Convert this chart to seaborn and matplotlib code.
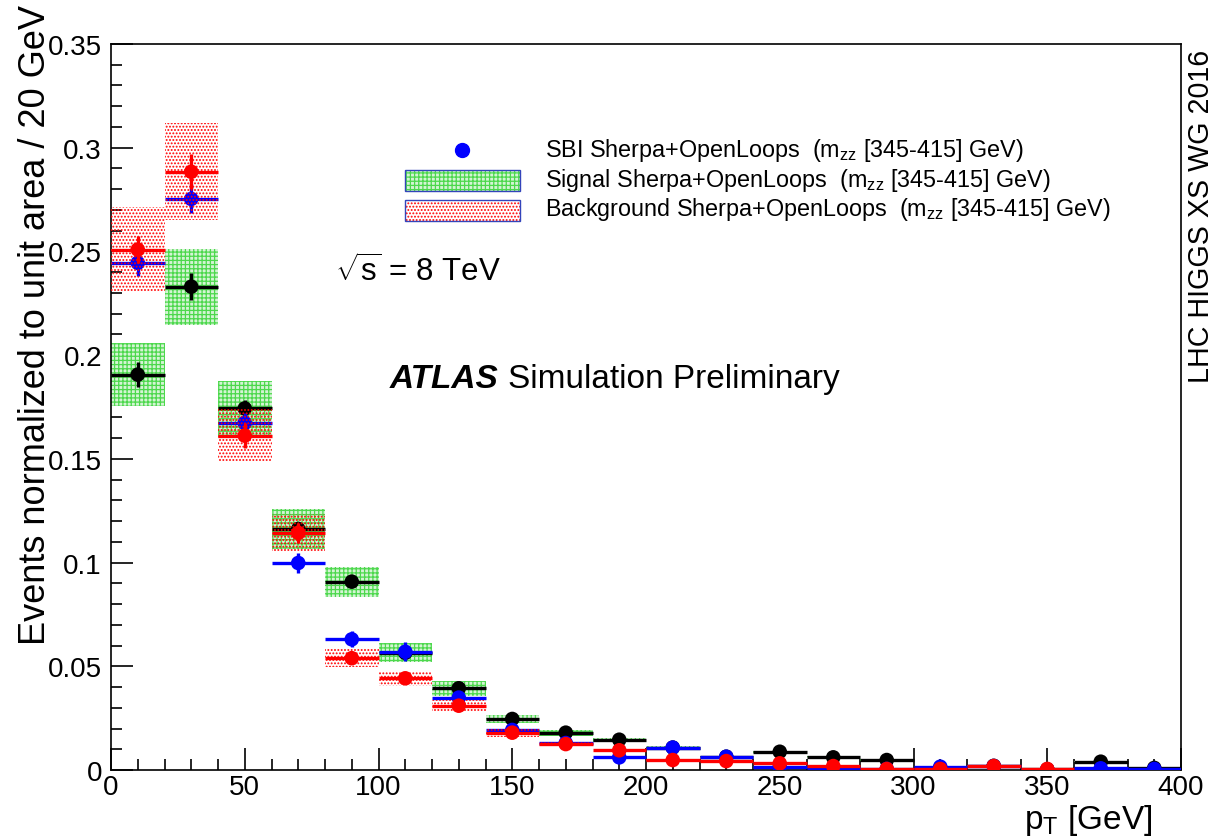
import numpy as np
import matplotlib
matplotlib.use("Agg")
import matplotlib.pyplot as plt
import seaborn as sns
from matplotlib.patches import Rectangle
from matplotlib.lines import Line2D

# ---------------- data ----------------
pt_centers = [10, 30, 50, 70, 90, 110, 130, 150, 170, 190,
              210, 230, 250, 270, 290, 310, 330, 350, 370, 390]
bin_half_width = 10

signal_vals = [0.1906, 0.2330, 0.1743, 0.1162, 0.0908, 0.0565, 0.0394, 0.0246, 0.0180, 0.0146,
               0.0108, 0.0064, 0.0088, 0.0061, 0.0048, 0.0010, 0.0020, 0.0003, 0.0040, 0.0010]
signal_err = [0.0060, 0.0065, 0.0040, 0.0030, 0.0020, 0.0015, 0.0012, 0.0010, 0.0010, 0.0010,
              0.0008, 0.0007, 0.0008, 0.0007, 0.0006, 0.0004, 0.0005, 0.0003, 0.0007, 0.0004]
signal_band = [0.0153, 0.0183, 0.0131, 0.0096, 0.0072, 0.0046, 0.0035, 0.0020, 0.0015, 0.0010,
               0.0006, 0.0005, 0.0006, 0.0005, 0.0004, 0.0002, 0.0002, 0.0001, 0.0003, 0.0001]

sbi_vals = [0.2445, 0.2753, 0.1673, 0.0998, 0.0630, 0.0570, 0.0349, 0.0193, 0.0130, 0.0061,
            0.0108, 0.0064, 0.0016, 0.0008, 0.0005, 0.0016, 0.0019, 0.0002, 0.0008, 0.0005]
sbi_err = [0.0065, 0.0070, 0.0050, 0.0050, 0.0038, 0.0045, 0.0015, 0.0010, 0.0010, 0.0010,
           0.0010, 0.0008, 0.0005, 0.0004, 0.0003, 0.0004, 0.0004, 0.0002, 0.0004, 0.0003]

bkg_vals = [0.2509, 0.2884, 0.1612, 0.1143, 0.0539, 0.0442, 0.0310, 0.0180, 0.0125, 0.0095,
            0.0048, 0.0043, 0.0032, 0.0019, 0.0005, 0.0005, 0.0019, 0.0005, 0.0000, 0.0000]
bkg_err = [0.0065, 0.0085, 0.0060, 0.0050, 0.0020, 0.0015, 0.0012, 0.0010, 0.0010, 0.0008,
           0.0006, 0.0005, 0.0005, 0.0004, 0.0003, 0.0003, 0.0004, 0.0003, 0.0000, 0.0000]
bkg_band = [0.0203, 0.0233, 0.0129, 0.0090, 0.0043, 0.0036, 0.0029, 0.0020, 0.0010, 0.0008,
            0.0004, 0.0003, 0.0003, 0.0002, 0.0001, 0.0001, 0.0002, 0.0001, 0.0000, 0.0000]

legend_labels = ["SBI Sherpa+OpenLoops  (m$_{\\mathrm{zz}}$ [345-415] GeV)",
                 "Signal Sherpa+OpenLoops  (m$_{\\mathrm{zz}}$ [345-415] GeV)",
                 "Background Sherpa+OpenLoops  (m$_{\\mathrm{zz}}$ [345-415] GeV)"]

# ---------------- style ----------------
sns.set_style("ticks")
plt.rcParams['font.family'] = ['Liberation Sans', 'DejaVu Sans']
plt.rcParams['mathtext.fontset'] = 'custom'
plt.rcParams['mathtext.rm'] = 'Liberation Sans'
plt.rcParams['mathtext.it'] = 'Liberation Sans:italic'
plt.rcParams['mathtext.bf'] = 'Liberation Sans:bold'
plt.rcParams['hatch.linewidth'] = 0.9
plt.rcParams['text.color'] = 'black'
plt.rcParams['xtick.color'] = 'black'
plt.rcParams['ytick.color'] = 'black'
plt.rcParams['xtick.labelcolor'] = 'black'
plt.rcParams['ytick.labelcolor'] = 'black'

W, H = 1220, 837
fig = plt.figure(figsize=(W / 100, H / 100), dpi=100)
ax = fig.add_axes([111 / W, 1 - 771 / H, (1181 - 111) / W, (771 - 45) / H])

x = np.array(pt_centers, dtype=float)
GREEN = '#4cd84c'
GREEN_FILL = '#d4f4d4'
RED = '#ff0000'
BLUE = '#0000ff'
GREEN_HATCH = '++++'
RED_HATCH = '.....'

# signal band (green)
sv = np.array(signal_vals); sb = np.array(signal_band)
ax.bar(x, 2 * sb, bottom=sv - sb, width=2 * bin_half_width, facecolor=GREEN_FILL,
       edgecolor=GREEN, hatch=GREEN_HATCH, linewidth=0, zorder=1)

def draw_points(vals, errs, color, z):
    v = np.array(vals); e = np.array(errs)
    m = v > 0
    ax.errorbar(x[m], v[m], xerr=bin_half_width, yerr=e[m], fmt='none',
                ecolor=color, elinewidth=2.4, capsize=0, zorder=z)
    sns.scatterplot(x=x[m], y=v[m], ax=ax, color=color, s=110, edgecolor='none',
                    marker='o', zorder=z + 0.1, legend=False)

draw_points(signal_vals, signal_err, 'black', 2)
draw_points(sbi_vals, sbi_err, BLUE, 3)

# background band (red)
bv = np.array(bkg_vals); bb = np.array(bkg_band)
mb = bb > 0
ax.bar(x[mb], 2 * bb[mb], bottom=bv[mb] - bb[mb], width=2 * bin_half_width, facecolor='none',
       edgecolor=RED, hatch=RED_HATCH, linewidth=0, zorder=4)

draw_points(bkg_vals, bkg_err, RED, 5)

# ---------------- axes ----------------
ax.set_xlim(0, 400)
ax.set_ylim(0, 0.35)
ax.set_xticks([0, 50, 100, 150, 200, 250, 300, 350, 400])
ax.set_xticks(np.arange(0, 401, 10), minor=True)
ax.set_yticks([0, 0.05, 0.1, 0.15, 0.2, 0.25, 0.3, 0.35])
ax.set_yticks(np.arange(0, 0.351, 0.01), minor=True)
ax.set_xticklabels(['0', '50', '100', '150', '200', '250', '300', '350', '400'])
ax.set_yticklabels(['0', '0.05', '0.1', '0.15', '0.2', '0.25', '0.3', '0.35'])
ax.tick_params(axis='both', which='both', direction='in', top=False, right=False,
               labelsize=20, width=1.2, color='black', labelcolor='black')
ax.tick_params(axis='y', which='major', length=16, pad=6.5)
ax.tick_params(axis='y', which='minor', length=8)
ax.tick_params(axis='x', which='major', length=16, pad=3)
ax.tick_params(axis='x', which='minor', length=8)
for s in ax.spines.values():
    s.set_visible(True)
    s.set_linewidth(1.2)
    s.set_color('black')
ax.grid(False)

# axis titles
fig.text(45 / W, 1 - 5 / H, "Events normalized to unit area / 20 GeV", rotation=90,
         rotation_mode='anchor', ha='right', va='baseline', fontsize=26)
fig.text(1152 / W, 1 - 821 / H, "p$_{\\mathrm{T}}$ [GeV]", ha='right', va='center', fontsize=24)
fig.text(1201 / W, 1 - 50 / H, "LHC HIGGS XS WG 2016", rotation=90,
         ha='center', va='top', fontsize=20.6)

# annotations
fig.text(335 / W, 1 - 272 / H, "$\\sqrt{\\mathrm{s}}$ = 8 TeV", ha='left', va='center', fontsize=22.5)
fig.text(390 / W, 1 - 380 / H, "ATLAS", ha='left', va='center', fontsize=24,
         fontweight='bold', fontstyle='italic')
fig.text(508 / W, 1 - 380 / H, "Simulation Preliminary", ha='left', va='center', fontsize=24)

# legend (manual, figure pixel coords)
fig.add_artist(Line2D([462 / W], [1 - 151 / H], marker='o', color=BLUE, markersize=10,
                      linestyle='none', transform=fig.transFigure))
fig.add_artist(Rectangle((405 / W, 1 - 192 / H), 115 / W, 21 / H, transform=fig.transFigure,
                         facecolor=GREEN_FILL, edgecolor=GREEN, hatch=GREEN_HATCH, linewidth=0))
fig.add_artist(Rectangle((405 / W, 1 - 192 / H), 115 / W, 21 / H, transform=fig.transFigure,
                         facecolor='none', edgecolor='#3344bb', linewidth=1.0))
fig.add_artist(Rectangle((405 / W, 1 - 222 / H), 115 / W, 21 / H, transform=fig.transFigure,
                         facecolor='white', edgecolor=RED, hatch=RED_HATCH, linewidth=0))
fig.add_artist(Rectangle((405 / W, 1 - 222 / H), 115 / W, 21 / H, transform=fig.transFigure,
                         facecolor='none', edgecolor='#3344bb', linewidth=1.0))
for i, lab in enumerate(legend_labels):
    fig.text(545 / W, 1 - (150 + 30 * i) / H, lab, ha='left', va='center', fontsize=16.8)

fig.savefig("out.png", dpi=100)
